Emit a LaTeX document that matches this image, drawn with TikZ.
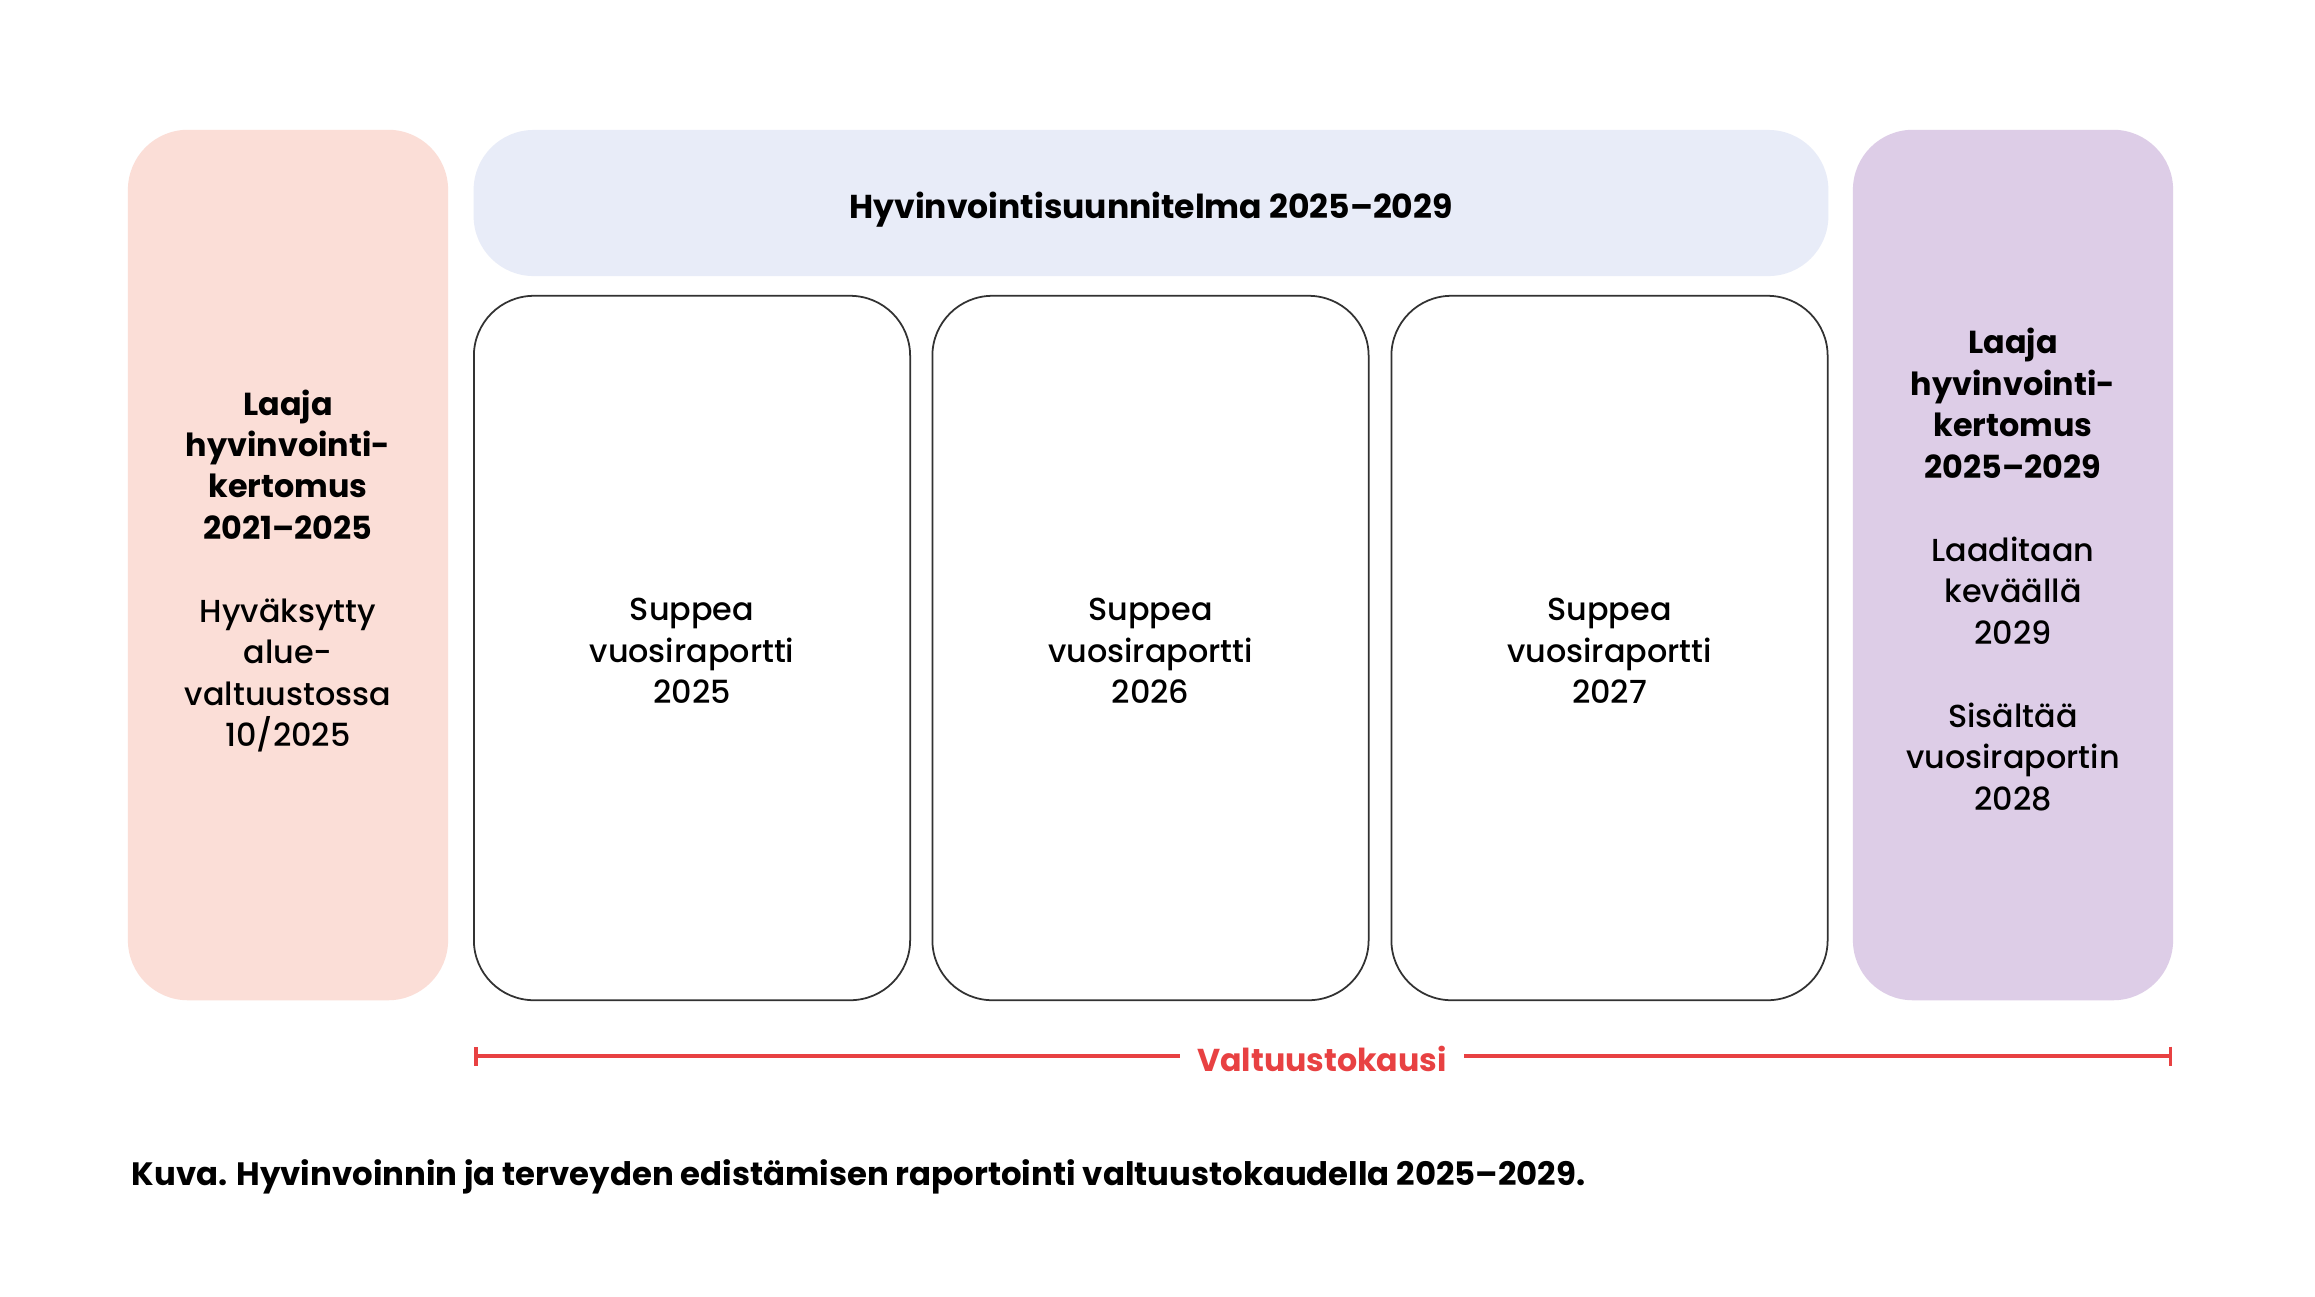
\documentclass[tikz,border=0pt]{standalone}
\usepackage{fontspec}
\setmainfont{Poppins}[UprightFont=* Medium, BoldFont=* Bold]
\usetikzlibrary{arrows.meta}
\definecolor{pinkbox}{RGB}{251,222,215}
\definecolor{bluebox}{RGB}{232,236,248}
\definecolor{purplebox}{RGB}{221,205,231}
\definecolor{valtred}{RGB}{232,65,66}
\definecolor{boxline}{RGB}{50,50,50}
\tikzset{
  bodyfont/.style={font={\fontsize{9.05pt}{11.8pt}\selectfont}},
  colbox/.style={rounded corners=0.6cm, inner sep=0pt},
  wbox/.style={colbox, draw=boxline, line width=0.5pt, fill=white,
    minimum width=4.36cm, minimum height=7.04cm},
  sidebox/.style={colbox, minimum width=3.2cm, minimum height=8.7cm},
  boxtext/.style={inner sep=0pt, align=center, bodyfont},
  redline/.style={draw=valtred, line width=1pt},
}
\begin{document}
\begin{tikzpicture}[x=0.01cm,y=-0.01cm]
\useasboundingbox[fill=white] (0,0) rectangle (2315,1296);
% left pink box
\node[sidebox, fill=pinkbox] (lk1) at (288,565) {};
\node[boxtext] (lk1t) at ([yshift=-0.06cm]lk1.center)
  {\textbf{Laaja}\\\textbf{hyvinvointi-}\\\textbf{kertomus}\\\textbf{2021–2025}\\[\baselineskip]
   Hyväksytty\\alue-\\valtuustossa\\10/2025};
% header
\node[colbox, fill=bluebox, minimum width=13.54cm, minimum height=1.46cm] (hs) at (1151,203) {};
\node[inner sep=0pt, anchor=base, font={\fontsize{9.4pt}{12pt}\selectfont\bfseries}] (hst) at (1151,218)
  {Hyvinvointisuunnitelma 2025–2029};
% white boxes
\node[wbox] (w1) at (692,648) {};
\node[wbox] (w2) at (1150.5,648) {};
\node[wbox] (w3) at (1609.5,648) {};
\node[boxtext] (w1t) at ([yshift=-0.03cm]w1.center) {Suppea\\vuosiraportti\\2025};
\node[boxtext] (w2t) at ([yshift=-0.03cm]w2.center) {Suppea\\vuosiraportti\\2026};
\node[boxtext] (w3t) at ([yshift=-0.03cm]w3.center) {Suppea\\vuosiraportti\\2027};
% right purple box
\node[sidebox, fill=purplebox] (lk2) at (2013,565) {};
\node[boxtext] (lk2t) at ([yshift=-0.045cm]lk2.center)
  {\textbf{Laaja}\\\textbf{hyvinvointi-}\\\textbf{kertomus}\\\textbf{2025–2029}\\[\baselineskip]
   Laaditaan\\keväällä\\2029\\[\baselineskip]
   Sisältää\\vuosiraportin\\2028};
% valtuustokausi line
\node[anchor=base, inner xsep=0.17cm, inner ysep=0pt, text=valtred,
  font={\fontsize{9pt}{12pt}\selectfont\bfseries}] (valt) at (1322,1071) {Valtuustokausi};
\coordinate (vl) at (474,1056);
\coordinate (vr) at (2172,1056);
\draw[redline, {Bar[width=0.19cm,line width=1pt]}-] (vl) -- (vl -| valt.west);
\draw[redline, -{Bar[width=0.19cm,line width=1pt]}] (vr -| valt.east) -- (vr);
% caption
\node[anchor=base west, inner sep=0pt, font={\fontsize{9.2pt}{12pt}\selectfont\bfseries}] (cap) at (131,1185)
  {Kuva. Hyvinvoinnin ja terveyden edistämisen raportointi valtuustokaudella 2025–2029.};
\end{tikzpicture}
\end{document}
